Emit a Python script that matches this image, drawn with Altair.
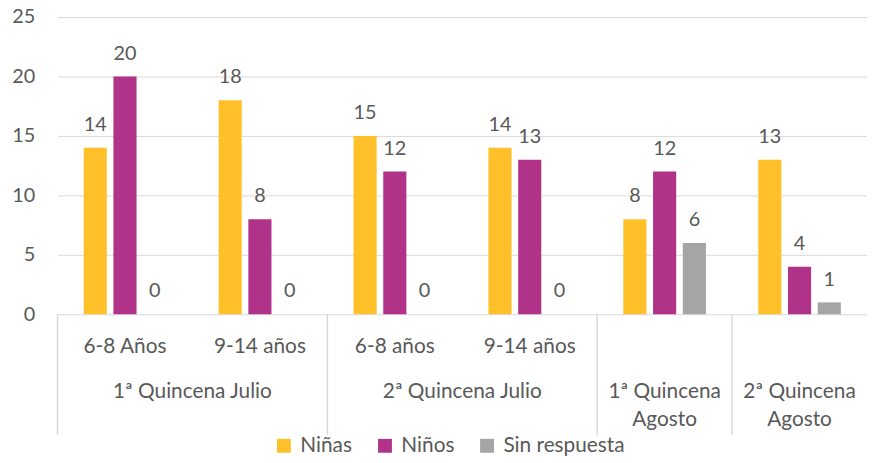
import altair as alt
import pandas as pd

# ---- data ----
groups = ["g1", "g2", "g3", "g4", "g5", "g6"]
inner_labels = ["6-8 Años", "9-14 años", "6-8 años", "9-14 años", "", ""]
series = ["Niñas", "Niños", "Sin respuesta"]
ninas = [14, 18, 15, 14, 8, 13]
ninos = [20, 8, 12, 13, 12, 4]
sin_resp = [0, 0, 0, 0, 6, 1]
colors = ["#FFC02A", "#B03389", "#A5A5A5"]

julio_groups = ["g1", "g3"]
julio_labels = ["1ª Quincena Julio", "2ª Quincena Julio"]
agosto_groups = ["g5", "g6"]
agosto_labels = ["1ª Quincena\nAgosto", "2ª Quincena\nAgosto"]
divider_groups = ["g1", "g3", "g5", "g6"]

FONT = "Lato"
TXT = "#595959"
GRID = "#D9D9D9"
FS = 20      # values, y axis
FS_LEG = 21  # legend
FS_CAT = 21  # category axis labels

rows = []
for i, g in enumerate(groups):
    for s, vals in zip(series, [ninas, ninos, sin_resp]):
        rows.append({"grp": g, "series": s, "value": vals[i]})
df = pd.DataFrame(rows)

xsc = alt.Scale(domain=groups, paddingInner=0, paddingOuter=0)
x_main = alt.X("grp:N", sort=groups, scale=xsc, axis=None)
xoff = alt.XOffset("series:N", sort=series,
                   scale=alt.Scale(domain=series, paddingInner=0.222, paddingOuter=0.88))
y_main = alt.Y("value:Q", scale=alt.Scale(domain=[0, 25], nice=False),
               axis=alt.Axis(values=[0, 5, 10, 15, 20, 25], title=None, grid=True,
                             gridColor=GRID, gridWidth=1, domain=False, ticks=False,
                             tickSize=0, labelPadding=23, labelFontSize=FS,
                             labelFont=FONT, labelColor=TXT))

bars = alt.Chart(df).mark_bar().encode(
    x=x_main,
    xOffset=xoff,
    y=y_main,
    color=alt.Color("series:N", sort=series,
                    scale=alt.Scale(domain=series, range=colors),
                    legend=alt.Legend(title=None, orient="none", direction="horizontal",
                                      legendX=218, legendY=422, symbolType="square",
                                      symbolSize=196, symbolStrokeWidth=0,
                                      labelFont=FONT, labelFontSize=FS_LEG, labelColor=TXT,
                                      labelOffset=6, columnPadding=22)),
)

labels = alt.Chart(df).mark_text(font=FONT, fontSize=FS, color=TXT,
                                 baseline="alphabetic", dy=-17).encode(
    x=alt.X("grp:N", sort=groups),
    xOffset=alt.XOffset("series:N", sort=series),
    y="value:Q",
    text="value:Q",
)

inner_df = pd.DataFrame({"grp": groups, "label": inner_labels})
inner = alt.Chart(inner_df).mark_text(font=FONT, fontSize=FS_CAT, color=TXT,
                                      baseline="alphabetic").encode(
    x=alt.X("grp:N", sort=groups),
    y=alt.value(339),
    text="label:N",
)

julio_df = pd.DataFrame({"grp": julio_groups, "label": julio_labels})
julio = alt.Chart(julio_df).mark_text(font=FONT, fontSize=FS_CAT, color=TXT,
                                      baseline="alphabetic").encode(
    x=alt.X("grp:N", sort=groups, bandPosition=1),
    y=alt.value(385),
    text="label:N",
)

agosto_df = pd.DataFrame({"grp": agosto_groups, "label": agosto_labels})
agosto = alt.Chart(agosto_df).mark_text(font=FONT, fontSize=FS_CAT, color=TXT,
                                        baseline="alphabetic", lineBreak="\n",
                                        lineHeight=28).encode(
    x=alt.X("grp:N", sort=groups, bandPosition=0.5),
    y=alt.value(385),
    text="label:N",
)

div_df = pd.DataFrame({"grp": divider_groups})
dividers = alt.Chart(div_df).mark_rule(color=GRID, strokeWidth=1.5).encode(
    x=alt.X("grp:N", sort=groups, bandPosition=0),
    y=alt.value(300),
    y2=alt.value(422),
)

chart = alt.layer(bars, labels, inner, julio, agosto, dividers).properties(
    width=817, height=300,
    autosize=alt.AutoSizeParams(type="none"),
    padding={"left": 50, "top": 7, "right": 0, "bottom": 148},
).configure_view(stroke=None)

chart.save("out.html", embed_options={"renderer": "svg", "actions": False})
